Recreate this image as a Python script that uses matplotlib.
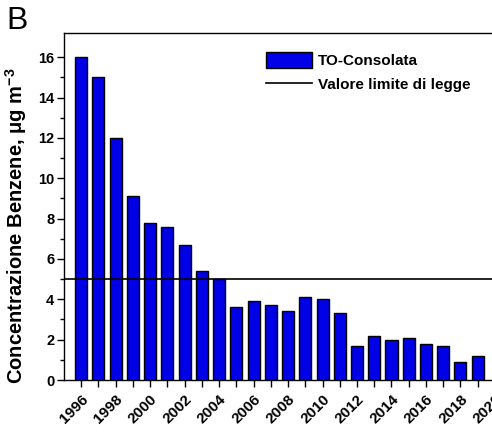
import numpy as np
import matplotlib.pyplot as plt

plt.rcParams['font.family'] = ['Liberation Sans', 'DejaVu Sans']

# annual mean benzene, TO-Consolata station
years = np.arange(1996, 2020)
benzene = [16.0, 15.0, 12.0, 9.1, 7.8, 7.6, 6.7, 5.4, 5.0, 3.6, 3.9, 3.7,
           3.4, 4.1, 4.0, 3.3, 1.7, 2.2, 2.0, 2.1, 1.8, 1.7, 0.9, 1.2]
limit_value = 5
label_years = np.arange(1996, 2021, 2)

fig = plt.figure(figsize=(4.92, 4.33), dpi=100)
ax = fig.add_axes([0.130, 0.1224, 0.911, 0.8014])

bars = ax.bar(years, benzene, width=0.7, color='#0000e6', edgecolor='black',
              linewidth=1.0, zorder=2)
line = ax.axhline(limit_value, color='black', linewidth=1.2, zorder=3)

ax.set_xlim(1995, 2021)
ax.set_ylim(0, 17.2)

ax.set_xticks(years, minor=True)
ax.set_xticks(label_years)
ax.set_xticklabels([str(y) for y in label_years], rotation=45,
                   ha='right', va='top', rotation_mode='anchor',
                   fontsize=11, fontweight='bold')
ax.set_yticks(np.arange(0, 17, 2))
ax.set_yticks(np.arange(0, 17, 1), minor=True)
for lab in ax.get_yticklabels():
    lab.set_fontsize(10.5)
    lab.set_fontweight('bold')

ax.tick_params(axis='both', which='both', direction='out', width=1.0)
ax.tick_params(axis='x', which='major', length=5, pad=4)
ax.tick_params(axis='x', which='minor', length=5)
ax.tick_params(axis='y', which='major', length=5, pad=2)
ax.tick_params(axis='y', which='minor', length=3)

for s in ax.spines.values():
    s.set_linewidth(1.0)

ax.set_ylabel('Concentrazione Benzene, μg m$^{\\mathregular{-3}}$',
              fontsize=14.5, fontweight='bold')
ax.yaxis.set_label_coords(-0.078, 0.444)

fig.text(0.012, 0.985, 'B', fontsize=23, va='top', ha='left')

ax.legend([bars, line], ['TO-Consolata', 'Valore limite di legge'],
          loc='upper left', bbox_to_anchor=(252 / 492, 1 - 38 / 433),
          bbox_transform=fig.transFigure, frameon=False,
          prop={'weight': 'bold', 'size': 11}, handlelength=3.0,
          handleheight=1.3, handletextpad=0.4, labelspacing=0.5)

fig.savefig('out.png', dpi=100)
